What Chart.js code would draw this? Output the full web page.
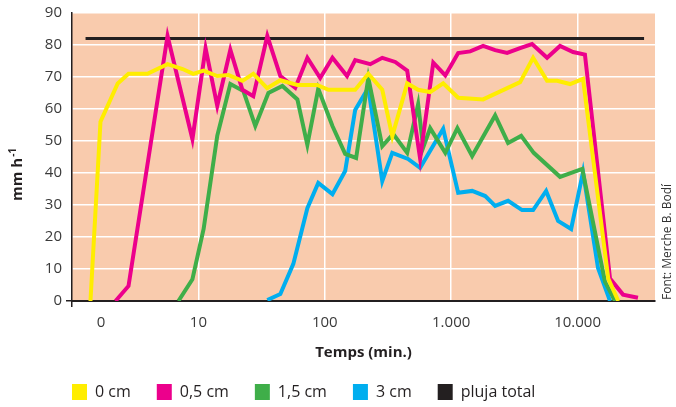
<!DOCTYPE html>
<html>
<head>
<meta charset="utf-8">
<script src="https://cdn.jsdelivr.net/npm/chart.js@4.4.1/dist/chart.umd.min.js"></script>
<style>
  html, body { margin: 0; padding: 0; background: #fff; }
</style>
</head>
<body>
<canvas id="chart" width="676" height="407"></canvas>
<script>
// time in minutes (log axis), rate in mm/h
const seriesNames = ["0 cm", "0,5 cm", "1,5 cm", "3 cm", "pluja total"];
const seriesColors = ["#FFED00", "#EC008C", "#3FAE49", "#00AEEF", "#231F20"];

const t0cm = [1.4, 1.68, 2.3, 2.8, 3.95, 5.7, 7.5, 9.1, 11, 14.1, 17.3, 22.3, 27.2, 35, 44.5, 60.7, 87, 107, 174, 221,
  285, 342, 449, 548, 682, 865, 1136, 1790, 3510, 4450, 5740, 6890, 8730, 11050, 17500, 21000];
const v0cm = [0, 56, 68, 71, 71, 74, 72.5, 71, 72, 70.3, 70.6, 68.8, 71, 66.5, 69, 67.5, 67.5, 66, 66, 71,
  66, 51.5, 68, 66, 65.3, 68, 63.5, 63, 68.4, 76, 68.8, 68.8, 67.8, 69.4, 7, 0];

const t05cm = [2.21, 2.8, 5.7, 8.97, 11.4, 14.1, 17.9, 22.3, 27.2, 35.1, 44.5, 58.4, 72.8, 92, 115, 150, 174, 229, 285, 361,
  449, 568, 722, 899, 1136, 1415, 1790, 2228, 2772, 3510, 4365, 5740, 7270, 9210, 11440, 18070, 22900, 30060];
const v05cm = [0, 4.7, 82.8, 50.6, 79, 61, 78.5, 66, 64, 82.8, 70.3, 66.6, 76, 69.7, 76, 70.3, 75.3, 74, 76, 74.7,
  72, 44.5, 74.5, 70.5, 77.5, 78, 79.7, 78.4, 77.5, 79, 80.3, 76, 79.7, 77.8, 77, 7, 2, 1];

const t15cm = [6.95, 8.97, 11, 14.1, 17.9, 22.7, 28.2, 35.8, 46.2, 60.7, 72.8, 88.8, 115, 145, 177, 221, 285, 348, 449, 548,
  601, 682, 899, 1120, 1466, 2228, 2820, 3580, 4500, 7270, 10900, 16500, 19800];
const v15cm = [0, 6.8, 22.5, 51.6, 67.8, 65.6, 54.7, 65, 67.2, 63, 48.8, 66.3, 54.7, 46, 44.7, 69.7, 48.4, 52.2, 46.3, 61.5,
  48, 54, 46.3, 54, 45.3, 58, 49.4, 51.6, 46.3, 38.8, 41.3, 6, 0];

const t3cm = [35.1, 44.5, 56.4, 72.8, 88.8, 115, 145, 174, 221, 285, 342, 456, 568, 865, 1136, 1466, 1860, 2228, 2820, 3640,
  4450, 5640, 7015, 8900, 11050, 14520, 18070];
const v3cm = [0.3, 2.2, 11.6, 29, 36.9, 33.4, 40.6, 59.7, 66.6, 37.5, 46.3, 44.4, 41.6, 53.8, 33.8, 34.4, 32.8, 29.7, 31.3, 28.4,
  28.4, 34.4, 25, 22.5, 40.3, 10.3, 0];

const tTotal = [1.28, 33600];
const vTotal = [82, 82];

const xTickValues = [1, 1.7, 10, 100, 1000, 10000];
const xTickLabels = ["", "0", "10", "100", "1.000", "10.000"];

const allTimes = [t0cm, t05cm, t15cm, t3cm, tTotal];
const allValues = [v0cm, v05cm, v15cm, v3cm, vTotal];

const INK = "#231F20";
const TICK_INK = "#3a3a3a";
const NONE = "rgba(0,0,0,0)";

const datasets = allTimes.map((times, i) => ({
  label: seriesNames[i],
  data: times.map((t, j) => ({ x: t, y: allValues[i][j] })),
  borderColor: seriesColors[i],
  backgroundColor: seriesColors[i],
  borderWidth: i === 4 ? 3 : 4,
  pointRadius: 0,
  tension: 0,
  fill: false
}));

const plotBackground = {
  id: "plotBackground",
  beforeDraw(chart) {
    const { ctx, chartArea: a } = chart;
    ctx.save();
    ctx.fillStyle = "#F9CBAD";
    ctx.fillRect(a.left, a.top, a.right - a.left, a.bottom - a.top);
    ctx.restore();
  }
};

// legend sits under the plot, starting at the y axis
const legendShift = {
  id: "legendShift",
  afterLayout(chart) {
    chart.legend.left = 46;
    chart.legend.top += 3;
  }
};

const extraText = {
  id: "extraText",
  afterDraw(chart) {
    const ctx = chart.ctx;
    ctx.save();
    ctx.fillStyle = INK;
    ctx.textBaseline = "middle";
    ctx.textAlign = "left";
    // y axis title with superscript
    ctx.translate(18, 201);
    ctx.rotate(-Math.PI / 2);
    ctx.font = 'bold 15px "Open Sans"';
    ctx.fillText("mm h", 0, 0);
    const w = ctx.measureText("mm h").width;
    ctx.font = 'bold 10px "Open Sans"';
    ctx.fillText("-1", w + 1, -5);
    ctx.restore();

    ctx.save();
    ctx.fillStyle = "#333";
    ctx.textBaseline = "middle";
    ctx.textAlign = "left";
    ctx.translate(668, 300);
    ctx.rotate(-Math.PI / 2);
    ctx.font = '12px "Open Sans"';
    ctx.fillText("Font: Merche B. Bodí", 0, 0);
    ctx.restore();
  }
};

new Chart(document.getElementById("chart"), {
  type: "line",
  data: { datasets: datasets },
  plugins: [plotBackground, legendShift, extraText],
  options: {
    responsive: false,
    animation: false,
    layout: { padding: { top: 12, right: 21, bottom: 0, left: 0 } },
    plugins: {
      tooltip: { enabled: false },
      legend: {
        position: "bottom",
        align: "start",
        labels: {
          boxWidth: 15,
          boxHeight: 16,
          padding: 26,
          color: INK,
          font: { family: "Open Sans", size: 16 },
          generateLabels: (chart) =>
            Chart.defaults.plugins.legend.labels.generateLabels(chart).map((l) => ({
              ...l, lineWidth: 0, fillStyle: l.strokeStyle
            }))
        }
      }
    },
    scales: {
      x: {
        type: "logarithmic",
        min: 1,
        max: 41000,
        afterBuildTicks: (s) => { s.ticks = xTickValues.map((v) => ({ value: v })); },
        afterFit: (s) => { s.height = 54; },
        ticks: {
          autoSkip: false,
          maxRotation: 0,
          padding: 7,
          color: TICK_INK,
          font: { family: "Open Sans", size: 15 },
          callback: (v) => { const k = xTickValues.indexOf(v); return k >= 0 ? xTickLabels[k] : ""; }
        },
        grid: {
          color: (c) => (c.tick && c.tick.value >= 10 ? "#ffffff" : NONE),
          lineWidth: 1.5,
          tickLength: 6,
          tickWidth: 1.5,
          tickColor: (c) => (c.tick && c.tick.value === 1 ? INK : NONE)
        },
        border: { color: INK, width: 2 },
        title: {
          display: true,
          text: "Temps (min.)",
          color: INK,
          font: { family: "Open Sans", size: 15, weight: "bold" },
          padding: { top: 0, bottom: -7 }
        }
      },
      y: {
        min: 0,
        max: 90,
        afterFit: (s) => { s.width = 72; },
        ticks: {
          stepSize: 10,
          padding: 4,
          color: TICK_INK,
          font: { family: "Open Sans", size: 15 }
        },
        grid: {
          color: (c) => (c.tick && c.tick.value === 0 ? NONE : "#ffffff"),
          lineWidth: 1.5,
          tickLength: 6,
          tickWidth: 1.5,
          tickColor: (c) => (c.tick && c.tick.value === 0 ? INK : NONE)
        },
        border: { color: INK, width: 1.5 }
      }
    }
  }
});
</script>
</body>
</html>
